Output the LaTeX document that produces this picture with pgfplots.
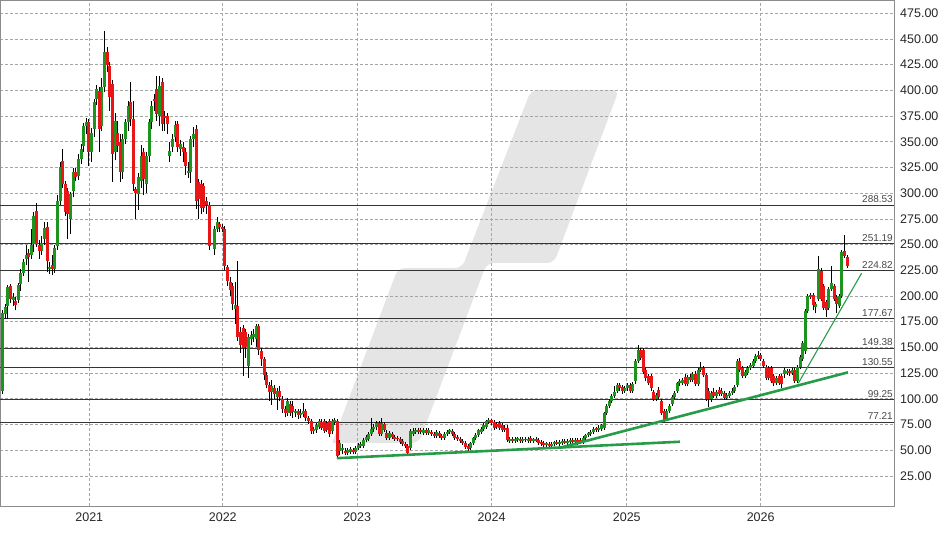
\documentclass[border=0pt]{standalone}
\usepackage{pgfplots}
\pgfplotsset{compat=1.18}
\usepackage{pgfplotstable}
\usepackage{fontspec}
\setmainfont{Liberation Sans}
\definecolor{cgreen}{RGB}{30,148,30}
\definecolor{cred}{RGB}{232,22,22}
\definecolor{tgreen}{RGB}{38,156,72}
\definecolor{wmark}{RGB}{229,229,229}
% w open high low close
\pgfplotstableread{
w o h l c
1 108 186 105 183
2 182 192 178 189
3 190 211 178 209
5 196 203 190 199
7 196 213 193 211
8 212 226 205 222
9 222 236 219 233
10 236 250 230 240
12 240 265 236 250
13 251 282 243 278
16 244 258 240 252
17 255 272 250 266
19 226 233 221 228
21 226 250 222 247
22 249 298 245 292
23 292 330 288 325
27 275 301 260 299
28 302 324 296 321
30 317 338 313 333
31 333 348 328 343
32 346 368 340 365
33 365 373 358 369
35 340 363 330 359
36 362 392 355 389
37 392 405 386 401
39 365 412 360 403
40 403 458 398 437
44 340 378 332 370
47 321 358 314 353
48 353 372 348 369
49 369 390 360 385
53 299 320 284 316
54 312 347 305 336
56 309 340 300 336
57 336 372 330 369
58 369 390 362 385
61 375 414 365 404
65 336 350 330 341
66 345 358 340 353
67 355 370 350 366
69 343 352 336 348
72 320 330 315 322
73 321 356 310 353
74 353 364 345 358
82 246 268 240 265
83 265 277 262 272
90 187 214 173 191
95 132 163 120 160
96 158 166 152 162
97 160 168 155 163
98 158 173 150 171
104 107 118 94 112
106 102 110 89 108
110 86 101 83 98
113 86 90 82 88
115 84 90 81 86
116 85 96 82 88
120 69 73 66 71
121 70 76 67 74
122 73 80 71 78
127 69 80 66 78
128 77 81 74 79
130 49 60 45 57
131 50 56 46 52
133 47 52 45 50
134 48 53 46 51
136 48 54 46 52
137 52 57 50 55
138 54 58 52 56
139 54 62 52 60
140 60 65 58 63
141 61 68 59 66
142 66 81 64 71
143 71 75 68 73
144 73 78 70 76
146 66 81 64 76
149 62 69 60 67
157 52 71 50 69
158 66 72 64 69
159 68 72 66 70
162 67 72 65 70
164 67 72 65 70
167 64 70 62 68
170 62 68 60 66
171 66 70 64 68
172 68 71 66 70
180 52 58 50 57
181 57 63 55 62
182 62 67 60 65
183 65 71 63 70
184 68 73 66 71
185 71 76 69 74
186 73 79 71 78
187 77 81 75 79
195 59 63 57 61
197 59 63 57 61
198 60 63 58 62
200 59 63 57 61
202 59 63 57 61
204 59 62 57 61
209 55 58 53 57
211 54 58 52 56
212 56 59 54 58
214 56 60 54 58
215 57 61 55 59
217 57 61 55 59
218 58 62 56 60
220 58 62 56 60
223 58 64 56 62
224 62 66 60 65
225 65 68 63 67
226 66 70 64 68
227 68 73 66 71
229 70 74 68 72
230 71 75 69 74
231 72 87 70 86
232 86 95 84 93
233 93 100 91 98
234 98 105 96 103
235 103 112 101 107
236 108 115 106 113
239 108 112 106 110
240 110 115 108 113
242 108 116 106 114
243 117 139 114 137
244 137 152 135 147
251 100 106 98 104
255 80 90 78 88
256 88 95 86 93
257 95 104 93 102
258 102 108 100 106
259 108 116 106 115
260 115 119 112 117
261 115 120 113 118
263 114 123 112 121
265 118 126 116 124
267 114 130 112 128
268 128 136 126 130
272 100 108 97 106
274 103 109 101 107
276 105 110 103 108
278 101 106 99 104
279 103 108 101 106
280 106 110 104 108
281 108 113 106 111
282 113 139 111 137
285 122 128 120 126
286 125 132 123 130
287 130 135 128 133
288 132 139 130 137
289 137 144 135 142
297 115 122 113 120
300 124 130 120 128
301 125 129 123 127
303 125 130 123 128
305 117 133 115 131
306 131 143 129 141
307 139 156 137 154
308 146 187 144 185
309 185 202 183 200
312 189 194 183 192
313 197 239 195 226
317 188 209 186 207
318 207 229 205 213
321 190 202 188 200
322 200 245 198 243
}\greentab
\pgfplotstableread{
w o h l c
4 210 212 193 197
6 195 199 186 191
11 242 246 214 238
14 283 290 248 251
15 250 254 236 244
18 267 272 223 234
20 230 240 220 226
24 331 343 305 309
25 309 312 278 282
26 302 305 255 280
29 321 324 312 316
34 369 372 326 340
38 399 403 340 362
41 437 442 418 425
42 424 428 380 394
43 406 410 311 338
45 359 370 340 346
46 350 358 311 321
50 389 408 365 372
51 372 390 302 309
52 304 306 275 300
55 340 344 298 314
59 392 396 380 390
60 401 414 370 377
62 408 412 360 367
63 375 380 360 373
64 375 378 358 367
68 367 370 340 345
70 345 350 330 340
71 340 344 318 326
75 362 366 285 292
76 311 314 275 294
77 309 313 280 286
78 307 310 282 286
79 292 296 280 288
80 288 291 245 249
84 270 272 262 267
85 267 270 262 265
86 265 268 225 229
87 228 230 210 215
88 214 218 200 206
89 210 213 186 192
91 190 234 156 160
92 165 170 145 152
93 169 172 122 149
94 165 168 140 150
99 171 173 143 147
100 146 149 132 139
101 139 141 118 123
102 123 126 110 113
103 113 116 98 107
105 110 113 100 105
107 108 112 98 102
108 100 103 86 90
109 90 93 82 86
111 95 98 83 86
112 93 98 81 87
114 88 90 80 84
117 88 90 78 81
118 81 83 75 78
119 78 80 66 69
123 77 80 70 72
124 78 80 67 69
125 76 78 68 70
126 78 80 63 66
129 78 80 42 44
132 49 52 45 47
135 50 52 46 48
145 76 78 64 66
147 75 77 68 70
148 67 70 60 62
150 66 68 61 63
151 63 65 59 61
152 62 64 59 60.5
153 61 63 56 58
154 59 61 54 56
155 56 58 52 54
156 54 56 45 47
160 70 72 66 68
161 70 72 66 68
163 70 72 65 67
165 68 70 64 66
166 66 68 62 64
168 67 69 62 64
169 64 66 60 62
173 69 71 64 66
174 66 68 60 62
175 63 65 59 61
176 61 63 57 59
177 59 61 55 57
178 57 59 51 53
179 54 56 49 51
188 79 80 74 76
189 77 79 70 72
190 75 77 71 73
191 76 78 70 72
192 74 76 68 70
193 72 74 68 70
194 72 74 58 60
196 61 63 57 59
199 61 63 57 59
201 61 63 58 59.5
203 62 64 57 59
205 61 63 58 59
206 60 62 55 57
207 58 60 54 56
208 57 59 53 55
210 56 58 52 54
213 58 60 55 56
216 59 61 56 57
219 60 62 56 58
221 60 62 55 57
222 60 62 56 58
228 72 73 68 70
237 113 115 108 110
238 111 113 105 108
241 113 115 106 108
245 147 149 138 140
246 147 149 124 126
247 128 130 117 120
248 122 124 113 115
249 122 124 108 110
250 107 109 98 100
252 109 111 100 102
253 98 100 84 86
254 88 90 77 79
262 121 124 112 114
264 121 124 116 118
266 124 127 112 114
269 130 132 121 123
270 123 125 98 100
271 108 110 92 100
273 107 110 101 103
275 109 111 103 105
277 106 108 99 101
283 137 140 126 128
284 130 132 120 122
290 143 146 139 141
291 143 145 137 139
292 137 139 130 132
293 131 133 118 120
294 130 132 118 120
295 130 132 115 117
296 122 124 112 115
298 122 124 113 115
299 122 124 110 114
302 127 129 122 125
304 128 130 115 117
310 201 203 197 199
311 201 203 186 191
314 224 227 195 197
315 210 212 186 188
316 194 196 180 186
319 210 212 195 197
320 199 201 183 192
323 244 259 237 239
324 238 240 227 229
}\redtab
\begin{document}
\begin{tikzpicture}
\begin{axis}[
  set layers,
  scale only axis,
  width=894pt, height=506pt,
  xmin=0, xmax=341.9, ymin=-4.3, ymax=487.9,
  axis line style={draw=black!45, line width=0.8pt},
  xtick={34.15,85.2,136.6,188.0,239.7,290.9},
  xticklabels={2021,2022,2023,2024,2025,2026},
  ytick={25,50,...,475},
  yticklabel pos=right,
  grid=major,
  grid style={dash pattern=on 3pt off 2pt, draw=black!35, line width=0.6pt},
  major tick length=0pt,
  /pgf/number format/assume math mode=true,
  tick label style={font=\fontsize{12.5}{14}\selectfont, text=black!85},
  y tick label style={/pgf/number format/fixed, /pgf/number format/fixed zerofill, /pgf/number format/precision=2, inner sep=0pt, xshift=6pt},
  x tick label style={inner sep=0pt, yshift=-7pt},
  candle/.style={draw=none, mark=none, forget plot, error bars/.cd, y dir=plus, y explicit, error mark=none},
]
% watermark
\addplot[on layer=axis background, fill=wmark, draw=none, rounded corners=7pt] coordinates {
 (127.0,57.0) (152.2,227.2) (176.7,227.2) (203.1,400.4) (236.7,400.4) (211.9,232.1) (186.2,232.1) (160.2,57.0) (127.0,57.0)};
% level lines
\pgfplotsinvokeforeach{288.53,251.19,224.82,177.67,149.38,130.55,99.25,77.21}{
  \addplot[draw=black!80, line width=0.9pt] coordinates {(0,#1) (341.9,#1)};
  \node[anchor=south east, inner sep=0pt, xshift=-1pt, yshift=2pt, font=\fontsize{10}{11}\selectfont, text=black!72] at (axis cs:341.9,#1) {#1};
}
% wicks
\addplot[candle, error bar style={draw=black, line width=1pt}]
  table[x=w, y=l, y error plus expr=\thisrow{h}-\thisrow{l}] {\greentab};
\addplot[candle, error bar style={draw=black, line width=1pt}]
  table[x=w, y=l, y error plus expr=\thisrow{h}-\thisrow{l}] {\redtab};
% bodies
\addplot[candle, error bar style={draw=cgreen, line width=3pt}]
  table[x=w, y=o, y error plus expr=\thisrow{c}-\thisrow{o}] {\greentab};
\addplot[candle, error bar style={draw=cred, line width=3pt}]
  table[x=w, y=c, y error plus expr=\thisrow{o}-\thisrow{c}] {\redtab};
% trend lines
\addplot[draw=tgreen, line width=2.6pt] coordinates {(128.8,42.2) (260,58.2)};
\addplot[draw=tgreen, line width=2.6pt] coordinates {(214.1,52.3) (324.3,125.7)};
\addplot[draw=tgreen, line width=1.1pt] coordinates {(305.3,115.1) (329.5,222.1)};
\end{axis}
\pgfresetboundingbox
\path[use as bounding box] (current axis.south west) ++(0,-28pt) rectangle ++(948pt,534pt);
\end{tikzpicture}
\end{document}
